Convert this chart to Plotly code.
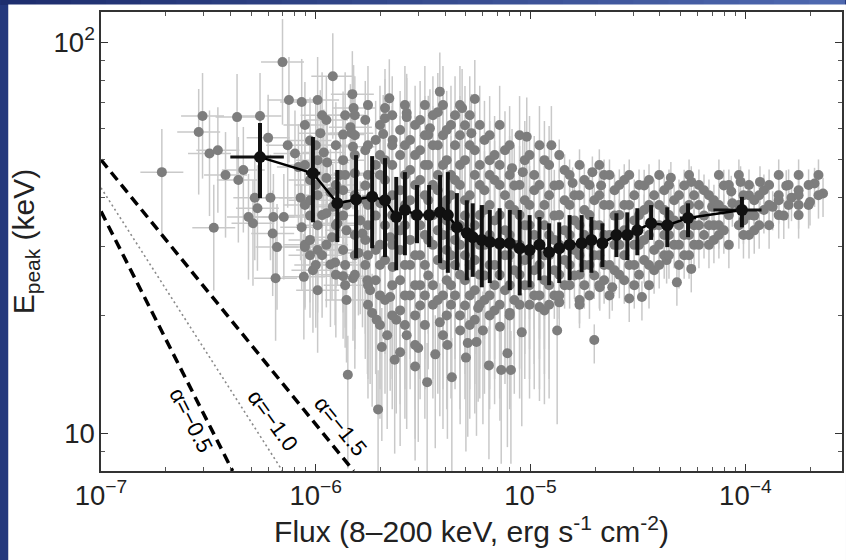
import math
import plotly.graph_objects as go

# ---------------- data ----------------
# Grey points: individual measurements (Flux [erg s^-1 cm^-2], Epeak [keV])
gl_flux = [7.0e-7, 1.2e-6, 1.48e-6, 7.5e-7, 8.6e-7, 1.02e-6, 1.5e-6, 2.97e-7, 4.3e-7, 5.5e-7,
           1.92e-7, 2.85e-7, 3.2e-7, 3.5e-7, 3.35e-7, 3.8e-7, 4.36e-7, 4.6e-7, 4.86e-7, 5.1e-7,
           5.35e-7, 5.2e-7, 6.0e-7, 6.15e-7, 6.3e-7, 6.35e-7, 6.6e-7, 6.5e-7, 7.1e-7, 7.4e-7,
           8.0e-7, 8.3e-7, 8.5e-7, 8.6e-7, 8.9e-7, 8.8e-7, 9.7e-7, 1.05e-6, 1.09e-6, 1.13e-6,
           1.17e-6, 1.19e-6, 1.20e-6, 1.26e-6, 1.23e-6, 1.45e-6, 1.49e-6, 1.52e-6, 1.49e-6, 1.47e-6,
           1.30e-6, 1.17e-6, 1.58e-6]
gl_ep = [88.9, 81.8, 73.6, 71.1, 70.3, 71.1, 67.8, 64.7, 64.3, 64.7,
         46.5, 58.9, 51.9, 52.9, 33.5, 45.7, 44.4, 47.1, 35.7, 34.4,
         37.6, 40.0, 56.9, 40.0, 32.4, 35.7, 29.9, 24.9, 35.7, 54.5,
         51.9, 47.9, 40.0, 33.6, 29.9, 25.1, 26.1, 58.5, 52.2, 49.2,
         41.3, 31.7, 37.9, 34.4, 27.3, 60.6, 54.0, 46.2, 24.9, 58.5,
         45.7, 27.0, 28.9]
# dense columns of the low-flux part: column flux and the Epeak values seen in it
gl_col_flux = [8.9e-7, 9.4e-7, 1.0e-6, 1.02e-6, 1.07e-6, 1.12e-6, 1.24e-6, 1.34e-6, 1.37e-6, 1.39e-6]
gl_col_ep = [[61.4, 48.5, 38.3, 30.3],
             [56.0, 44.4, 39.4, 36.0, 31.2, 28.5],
             [54.5, 43.1, 26.9],
             [49.9, 40.6, 34.0, 29.4, 23.2],
             [65.0, 36.1, 28.5],
             [63.2, 44.9, 36.5, 30.3],
             [54.5, 43.1, 34.0, 25.4],
             [58.0, 49.9, 41.8, 36.0, 29.4, 25.2],
             [65.0, 45.7, 26.9, 23.9],
             [38.3, 33.0, 21.9]]

gm_flux = [2.2e-6, 3.78e-6, 5.5e-6, 2.1e-6, 2.65e-6, 3.7e-6, 4.8e-6,
           1.41e-6, 1.61e-6, 1.65e-6, 1.74e-6, 1.79e-6, 1.83e-6, 1.92e-6, 2.03e-6, 1.95e-6, 2.15e-6,
           2.22e-6, 2.33e-6, 2.28e-6, 2.37e-6, 2.06e-6, 2.28e-6, 2.0e-6, 2.22e-6,
           2.65e-6, 3.4e-6, 5.3e-6, 6.45e-6, 9.6e-6, 1.25e-5, 8.2e-6, 9.2e-6, 7.2e-6, 7.8e-6,
           7.3e-6, 8.1e-6, 5.6e-6, 5.1e-6, 4.1e-6, 3.6e-6, 2.65e-6, 2.47e-6, 3.78e-6, 4.7e-6,
           6.0e-6, 5.7e-6, 8.0e-6, 1.1e-5, 9.1e-6, 1.33e-5,
           2.9e-6, 3.3e-6, 4.3e-6, 3.0e-6, 5.0e-6, 6.4e-6]
gm_ep = [71.8, 74.7, 71.5, 67.8, 65.9, 66.2, 67.8,
         14.1, 35.0, 32.4, 24.6, 23.2, 20.3, 19.5, 16.6, 11.5, 17.8,
         22.3, 15.4, 26.6, 19.5, 58.2, 56.2, 38.7, 31.7,
         64.3, 60.2, 58.5, 49.9, 57.3, 54.5, 47.6, 46.5, 18.7, 16.0,
         14.5, 14.5, 17.1, 17.0, 16.8, 15.9, 17.8, 16.1, 19.2, 18.3,
         18.3, 20.9, 20.3, 21.0, 18.1, 18.3,
         14.8, 13.5, 13.9, 16.5, 15.6, 14.9]
gm_col_flux = [1.52e-6, 1.70e-6, 1.75e-6, 1.9e-6, 1.99e-6, 2.1e-6, 2.27e-6, 2.47e-6, 2.60e-6, 2.75e-6,
               2.90e-6, 3.06e-6, 3.22e-6, 3.34e-6, 3.51e-6, 3.70e-6, 3.91e-6, 4.07e-6, 4.26e-6, 4.45e-6,
               4.69e-6, 4.95e-6, 5.21e-6, 5.5e-6, 5.80e-6, 6.1e-6, 6.45e-6, 6.8e-6, 7.18e-6, 7.6e-6,
               7.99e-6, 8.4e-6, 8.89e-6, 9.4e-6, 9.89e-6, 1.04e-5, 1.10e-5, 1.16e-5, 1.22e-5]
gm_col_ep = [[65.0, 57.8, 51.4, 40.6, 32.1, 28.5, 25.4],
             [63.2, 52.9, 43.0, 39.4, 31.2, 26.9],
             [69.0, 54.5, 45.7, 38.3, 34.0, 28.5, 23.9, 21.3],
             [56.2, 48.5, 36.0, 29.4, 24.6],
             [61.4, 51.4, 45.7, 30.3, 26.9, 22.5, 18.9],
             [63.9, 49.9, 44.4, 34.0, 27.7, 21.9],
             [65.0, 54.5, 48.5, 40.6, 36.1, 30.3, 23.9, 20.0],
             [59.6, 51.4, 41.8, 33.0, 29.4, 24.6, 20.6],
             [69.0, 54.5, 45.7, 38.3, 34.0, 26.9, 22.5, 18.9],
             [56.2, 47.1, 39.4, 31.2, 26.9, 22.5],
             [61.4, 51.4, 43.1, 36.1, 28.5, 23.9, 20.0, 16.8],
             [63.2, 52.9, 44.4, 34.0, 28.5, 23.9, 21.2],
             [69.0, 57.8, 48.5, 40.6, 32.1, 26.9, 22.5, 18.9],
             [57.9, 48.5, 39.4, 31.2, 25.3],
             [65.0, 54.5, 43.1, 36.1, 30.3, 23.9, 21.3],
             [54.5, 45.7, 41.8, 33.0, 27.7, 21.9],
             [69.0, 57.8, 48.5, 38.3, 32.1, 26.9, 22.5, 17.8],
             [59.6, 49.9, 39.4, 35.0, 29.4, 24.6, 20.0],
             [61.4, 45.7, 40.6, 34.0, 28.5, 23.9, 21.3],
             [65.0, 54.5, 44.4, 31.2, 26.9, 22.5],
             [69.0, 57.8, 48.5, 43.1, 34.0, 30.3, 25.4, 20.0],
             [61.3, 49.9, 39.4, 36.0, 28.5, 24.6, 21.2],
             [65.0, 54.5, 40.6, 32.1, 26.9, 22.5, 18.9],
             [52.9, 45.7, 34.0, 27.7, 23.2, 19.5],
             [61.4, 48.5, 43.1, 36.1, 30.3, 25.4, 21.3],
             [56.2, 41.8, 37.2, 30.3, 25.3, 21.9],
             [57.8, 45.7, 38.3, 32.1, 26.9, 22.5, 20.0],
             [51.4, 44.4, 35.0, 26.9, 23.9, 20.6],
             [61.4, 48.5, 43.1, 36.1, 30.3, 25.4, 21.3],
             [52.9, 40.6, 33.0, 28.5, 23.2],
             [54.5, 45.7, 38.3, 32.1, 28.5, 23.9, 20.0],
             [43.0, 37.2, 30.3, 26.1, 21.9],
             [57.8, 43.1, 36.1, 30.3, 25.4, 21.3],
             [49.9, 39.4, 34.0, 27.7, 23.9],
             [51.4, 38.3, 34.0, 28.5, 23.9, 21.3],
             [45.7, 41.8, 32.1, 26.1, 22.5],
             [54.5, 43.1, 36.1, 30.3, 26.9, 22.5],
             [49.9, 38.3, 34.0, 28.5, 24.6, 20.6],
             [48.5, 40.6, 32.1, 28.5, 23.9, 21.3]]

gr_flux = [1.94e-5, 1.57e-5, 2.13e-5, 3.56e-5, 4.5e-5, 5.6e-5, 9.5e-5, 1.17e-4, 1.55e-4, 1.64e-4,
           1.43e-4, 8.6e-5, 8.7e-5, 7.0e-5, 1.34e-4, 4.3e-5, 4.8e-5, 5.6e-5, 2.88e-5, 3.3e-5,
           2.4e-5, 2.1e-5, 1.98e-5, 1.36e-5, 1.69e-5, 2.3e-4, 2.1e-4, 2.0e-4]
gr_ep = [46.5, 43.6, 43.0, 44.4, 45.0, 43.9, 43.9, 43.9, 42.9, 40.0,
         39.4, 41.5, 38.7, 37.9, 37.9, 27.7, 24.3, 26.3, 22.1, 22.3,
         23.6, 23.6, 17.3, 21.6, 21.9, 41.0, 43.5, 39.0]
gr_col_flux = [1.29e-5, 1.36e-5, 1.44e-5, 1.52e-5, 1.6e-5, 1.69e-5, 1.78e-5, 1.88e-5, 1.98e-5, 2.09e-5,
               2.2e-5, 2.33e-5, 2.46e-5, 2.59e-5, 2.73e-5, 2.88e-5, 3.04e-5, 3.20e-5, 3.38e-5, 3.56e-5,
               3.76e-5, 3.97e-5, 4.19e-5, 4.41e-5, 4.66e-5, 4.91e-5, 5.19e-5, 5.47e-5, 5.77e-5, 6.08e-5,
               6.42e-5, 6.77e-5, 7.14e-5, 7.53e-5, 7.94e-5, 8.38e-5, 9.33e-5, 9.8e-5, 1.04e-4, 1.1e-4,
               1.16e-4, 1.22e-4, 1.29e-4, 1.43e-4, 1.51e-4, 1.59e-4, 1.77e-4, 1.97e-4, 2.19e-4]
gr_col_ep = [[43.0, 36.0, 31.2, 26.1, 22.5],
             [51.4, 43.1, 36.1, 30.3, 25.4, 22.5],
             [47.1, 39.4, 33.0, 27.7, 23.9],
             [45.7, 38.3, 32.1, 26.9, 23.9],
             [40.6, 35.0, 29.4, 25.3],
             [48.5, 40.6, 34.0, 28.5, 25.4, 21.3],
             [44.4, 37.2, 32.1, 26.9, 23.9],
             [43.1, 36.1, 30.3, 26.9, 22.5],
             [39.4, 34.0, 28.5, 25.3],
             [48.5, 40.6, 34.0, 28.5, 23.9],
             [45.7, 38.3, 32.1, 26.9, 24.6],
             [45.7, 38.3, 32.1, 26.9, 22.5],
             [41.8, 36.0, 30.3, 26.1],
             [43.1, 36.1, 30.3, 25.4],
             [44.4, 38.3, 33.0, 28.5, 24.6],
             [45.7, 38.3, 32.1, 26.9],
             [40.6, 35.0, 30.3, 26.9, 23.9],
             [43.1, 36.1, 30.3, 25.4],
             [43.0, 37.2, 31.2, 27.7],
             [38.3, 32.1, 26.9, 23.9],
             [40.6, 34.0, 29.4, 26.1],
             [45.7, 38.3, 34.0, 30.3, 26.9],
             [41.8, 37.2, 32.1, 28.5],
             [43.1, 36.1, 32.1, 28.5],
             [39.4, 35.0, 30.3],
             [40.6, 34.0, 30.3, 26.9],
             [43.0, 37.2, 32.1, 28.5],
             [45.7, 38.3, 32.1, 28.5],
             [40.6, 34.0, 30.3],
             [43.1, 38.3, 34.0, 30.3],
             [41.8, 36.0, 32.1],
             [40.6, 34.0, 30.3],
             [39.4, 34.0, 31.2],
             [45.7, 38.3, 34.0, 32.1],
             [43.0, 37.2, 33.0],
             [43.1, 36.1, 30.3],
             [45.7, 38.3, 34.0],
             [40.6, 35.0, 32.1],
             [43.1, 40.6, 36.1, 32.1],
             [39.4, 36.0, 33.0],
             [40.6, 34.0],
             [41.8, 37.2],
             [43.1, 38.3, 34.0],
             [45.7, 40.6, 36.1],
             [36.0],
             [43.1, 38.3],
             [45.7, 41.8, 40.6, 38.3, 36.1],
             [43.1, 38.3],
             [45.7, 40.6]]

# typical error-bar sizes per group (dex): up, down, flux half-width
gl_err = (0.11, 0.16, 0.10)
gm_err = (0.10, 0.24, 0.0)
gr_err = (0.04, 0.06, 0.0)

# Black binned points
bin_flux = [5.5e-7, 9.7e-7, 1.26e-6, 1.54e-6, 1.83e-6, 2.10e-6, 2.37e-6, 2.60e-6, 2.96e-6, 3.37e-6,
            3.79e-6, 4.12e-6, 4.54e-6, 5.05e-6, 5.38e-6, 5.93e-6, 6.46e-6, 7.18e-6, 8.0e-6, 8.9e-6,
            9.9e-6, 1.10e-5, 1.22e-5, 1.36e-5, 1.52e-5, 1.73e-5, 1.92e-5, 2.16e-5, 2.51e-5, 2.82e-5,
            3.14e-5, 3.64e-5, 4.33e-5, 5.41e-5, 9.64e-5]
bin_ep = [50.8, 46.2, 38.7, 39.6, 40.2, 39.4, 35.7, 37.2, 36.1, 36.1,
          36.7, 36.1, 33.6, 32.5, 31.7, 31.2, 30.8, 30.6, 30.6, 29.7,
          29.4, 30.3, 29.0, 29.7, 30.3, 30.6, 31.2, 30.6, 32.1, 32.1,
          33.0, 34.4, 34.0, 35.5, 37.2]
bin_ep_hi = [62.1, 57.2, 47.1, 51.4, 51.1, 50.5, 45.2, 46.5, 43.1, 43.1,
             45.7, 46.5, 41.1, 39.4, 38.7, 38.3, 37.2, 37.6, 37.2, 37.2,
             36.1, 35.7, 34.4, 34.6, 36.1, 36.1, 35.7, 34.4, 36.5, 36.7,
             37.6, 38.3, 37.8, 38.7, 40.2]
bin_ep_lo = [39.9, 34.6, 30.8, 28.0, 29.7, 28.2, 26.1, 28.5, 30.6, 29.9,
             27.2, 25.7, 26.1, 24.6, 25.1, 23.6, 24.2, 24.6, 23.2, 22.5,
             23.6, 24.6, 23.9, 24.2, 24.6, 25.8, 25.7, 26.6, 28.2, 27.7,
             28.5, 31.2, 29.9, 31.7, 33.6]
bin_flux_lo = [4.0e-7, 9.0e-7, 1.21e-6, 1.49e-6, 1.77e-6, 2.04e-6, 2.30e-6, 2.53e-6, 2.88e-6, 3.28e-6,
               3.69e-6, 4.01e-6, 4.42e-6, 4.92e-6, 5.24e-6, 5.78e-6, 6.29e-6, 6.99e-6, 7.79e-6, 8.67e-6,
               9.64e-6, 1.07e-5, 1.19e-5, 1.32e-5, 1.48e-5, 1.68e-5, 1.87e-5, 2.10e-5, 2.42e-5, 2.72e-5,
               3.0e-5, 3.45e-5, 4.05e-5, 4.95e-5, 7.1e-5]
bin_flux_hi = [7.1e-7, 1.05e-6, 1.31e-6, 1.59e-6, 1.89e-6, 2.16e-6, 2.44e-6, 2.67e-6, 3.04e-6, 3.46e-6,
               3.89e-6, 4.23e-6, 4.66e-6, 5.18e-6, 5.52e-6, 6.08e-6, 6.63e-6, 7.37e-6, 8.21e-6, 9.13e-6,
               1.02e-5, 1.13e-5, 1.25e-5, 1.40e-5, 1.56e-5, 1.78e-5, 1.97e-5, 2.22e-5, 2.60e-5, 2.92e-5,
               3.28e-5, 3.84e-5, 4.63e-5, 5.9e-5, 1.19e-4]

# reference power-law lines (start and end points)
alpha_labels = ["α=−0.5", "α=−1.0", "α=−1.5"]
alpha_flux = [[1.0e-7, 4.1e-7], [1.0e-7, 7.0e-7], [1.0e-7, 1.5e-6]]
alpha_ep = [[36.9, 8.0], [42.4, 8.0], [50.0, 8.0]]
alpha_label_pos = [(2.62e-7, 10.75), (6.3e-7, 10.75), (1.31e-6, 10.4)]
alpha_label_angle = [63, 54, 51]

x_range_log = [-7.0, -3.55]
y_range = [8.0, 119.4]

FONT = "Liberation Sans, Arial, Helvetica, sans-serif"


def flatten(col_flux, col_ep):
    fx, fy = [], []
    for f, eps in zip(col_flux, col_ep):
        for e in eps:
            fx.append(f)
            fy.append(e)
    return fx, fy


glc = flatten(gl_col_flux, gl_col_ep)
gmc = flatten(gm_col_flux, gm_col_ep)
grc = flatten(gr_col_flux, gr_col_ep)

groups = [(gl_flux + glc[0], gl_ep + glc[1], gl_err),
          (gm_flux + gmc[0], gm_ep + gmc[1], gm_err),
          (gr_flux + grc[0], gr_ep + grc[1], gr_err)]

# ---------------- figure ----------------
fig = go.Figure()


def errs(ep, up, dn):
    hi = [e * (10 ** up - 1) for e in ep]
    lo = [e * (1 - 10 ** (-dn)) for e in ep]
    return hi, lo


ERR_COL = "#c9c9c9"
# error bars first (under all grey markers)
for fl, ep, (up, dn, xw) in groups:
    hi, lo = errs(ep, up, dn)
    tr = dict(x=fl, y=ep, mode="markers", marker=dict(size=2, opacity=0),
              error_y=dict(type="data", symmetric=False, array=hi, arrayminus=lo,
                           color=ERR_COL, thickness=1.5, width=0),
              hoverinfo="skip", showlegend=False)
    if xw > 0:
        xh, xl = errs(fl, xw, xw)
        tr["error_x"] = dict(type="data", symmetric=False, array=xh, arrayminus=xl,
                             color=ERR_COL, thickness=1.5, width=0)
    fig.add_trace(go.Scatter(**tr))
for fl, ep, _ in groups:
    fig.add_trace(go.Scatter(x=fl, y=ep, mode="markers",
                             marker=dict(size=10, color="#7d7d7d", line=dict(width=0)),
                             showlegend=False))

# power-law reference lines
line_styles = [dict(color="black", width=3.5, dash="10px,6px"),
               dict(color="#8a8a8a", width=1.6, dash="2px,3px"),
               dict(color="black", width=3.5, dash="10px,6px")]
for xs, ys, st in zip(alpha_flux, alpha_ep, line_styles):
    fig.add_trace(go.Scatter(x=xs, y=ys, mode="lines", line=st, showlegend=False))

# binned black points
fig.add_trace(go.Scatter(
    x=bin_flux, y=bin_ep, mode="lines+markers",
    line=dict(color="black", width=2.5),
    marker=dict(size=12, color="#111111"),
    error_y=dict(type="data", symmetric=False,
                 array=[h - e for h, e in zip(bin_ep_hi, bin_ep)],
                 arrayminus=[e - l for e, l in zip(bin_ep, bin_ep_lo)],
                 color="#111111", thickness=4, width=0),
    error_x=dict(type="data", symmetric=False,
                 array=[h - f for h, f in zip(bin_flux_hi, bin_flux)],
                 arrayminus=[f - l for f, l in zip(bin_flux, bin_flux_lo)],
                 color="#111111", thickness=3, width=0),
    showlegend=False))

for txt, (fx, fy), ang in zip(alpha_labels, alpha_label_pos, alpha_label_angle):
    fig.add_annotation(x=math.log10(fx), y=math.log10(fy), text=txt, showarrow=False,
                       textangle=ang, font=dict(family=FONT, size=22, color="black"),
                       xref="x", yref="y")

# background: blue frame + white page
L, R, T, B, W, H = 101, 2, 12, 89, 846, 560
pw, ph = W - L - R, H - T - B


def px2paper_x(p):
    return (p - L) / pw


def py2paper_y(p):
    return (H - B - p) / ph


shapes = []
nseg = 24
c0 = (30, 46, 110)
c1 = (78, 104, 175)
for i in range(nseg):
    t = i / (nseg - 1)
    col = "rgb(%d,%d,%d)" % tuple(int(a + (b - a) * t) for a, b in zip(c0, c1))
    shapes.append(dict(type="rect", xref="paper", yref="paper", layer="below",
                       x0=px2paper_x(i * W / nseg), x1=px2paper_x((i + 1) * W / nseg + 1),
                       y0=py2paper_y(5), y1=py2paper_y(-2), line=dict(width=0), fillcolor=col))
shapes.append(dict(type="rect", xref="paper", yref="paper", layer="below",
                   x0=px2paper_x(8), x1=px2paper_x(W + 2), y0=py2paper_y(H + 2), y1=py2paper_y(4.5),
                   line=dict(width=0), fillcolor="white"))

axis_common = dict(
    type="log", showgrid=False, zeroline=False,
    showline=True, linecolor="#333333", linewidth=1.5, mirror="ticks",
    ticks="inside", ticklen=7, tickwidth=1.2, tickcolor="#333333",
    dtick=1, exponentformat="power",
    minor=dict(ticks="inside", ticklen=4, tickwidth=1, tickcolor="#555555", dtick="D1", showgrid=False),
    tickfont=dict(family=FONT, size=22, color="#222222"),
)

fig.update_layout(
    width=W, height=H,
    margin=dict(l=L, r=R, t=T, b=B),
    paper_bgcolor="rgb(36,56,125)",
    plot_bgcolor="white",
    shapes=shapes,
    xaxis=dict(axis_common, range=x_range_log,
               title=dict(text="Flux (8–200 keV, erg s<sup>-1</sup> cm<sup>-2</sup>)",
                          font=dict(family=FONT, size=30, color="#222222"), standoff=6)),
    yaxis=dict(axis_common, range=[math.log10(y_range[0]), math.log10(y_range[1])],
               title=dict(text="E<sub>peak</sub> (keV)",
                          font=dict(family=FONT, size=30, color="#222222"), standoff=10)),
    font=dict(family=FONT),
)

fig.write_html("out.html")
